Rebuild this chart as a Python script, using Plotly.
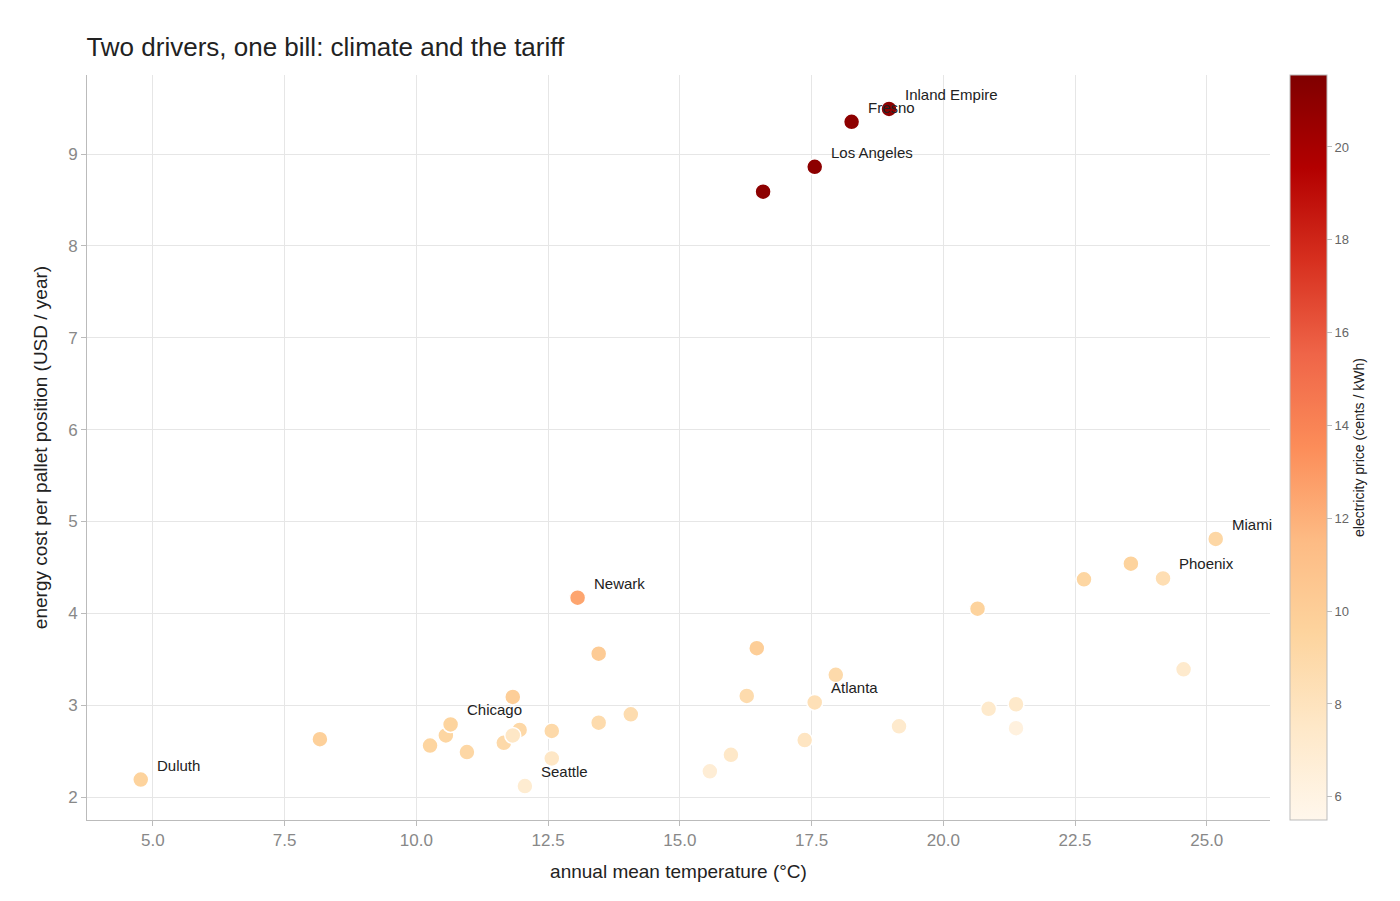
import plotly.graph_objects as go

temp = [4.77, 8.17, 10.26, 10.56, 10.65, 10.96, 11.66, 11.96, 11.83, 11.83, 12.06, 12.57, 12.57,
        13.06, 13.46, 13.46, 14.07, 15.57, 15.97, 16.27, 16.46, 16.58, 17.37, 17.56, 17.56, 17.96,
        18.26, 18.97, 19.16, 20.65, 20.86, 21.38, 21.38, 22.67, 23.56, 24.17, 24.56, 25.17]
cost = [2.19, 2.63, 2.56, 2.67, 2.79, 2.49, 2.59, 2.73, 3.09, 2.67, 2.12, 2.72, 2.42,
        4.17, 3.56, 2.81, 2.90, 2.28, 2.46, 3.10, 3.62, 8.59, 2.62, 8.86, 3.03, 3.33,
        9.35, 9.49, 2.77, 4.05, 2.96, 3.01, 2.75, 4.37, 4.54, 4.38, 3.39, 4.81]
price = [9.6, 9.8, 9.4, 9.3, 9.5, 9.2, 9.0, 9.1, 10.0, 7.6, 7.0, 9.0, 7.6,
         12.5, 10.2, 8.8, 8.7, 6.8, 7.5, 8.8, 10.0, 21.0, 7.8, 21.0, 8.3, 8.9,
         21.0, 21.0, 7.2, 9.6, 7.3, 7.4, 6.3, 9.3, 9.6, 8.5, 7.2, 9.2]
names = ["Duluth", "", "", "", "Chicago", "", "", "", "", "", "Seattle", "", "",
         "Newark", "", "", "", "", "", "", "", "", "", "Los Angeles", "Atlanta", "",
         "Fresno", "Inland Empire", "", "", "", "", "", "", "", "Phoenix", "", "Miami"]

fig = go.Figure(go.Scatter(
    x=temp, y=cost, mode="markers",
    marker=dict(size=16, color=price, colorscale="OrRd", cmin=5.5, cmax=21.55,
                line=dict(color="white", width=1.5),
                colorbar=dict(thickness=37, len=1, lenmode="fraction", y=0.5, yanchor="middle",
                              x=1.0, xanchor="left", xpad=20, ypad=0,
                              outlinecolor="#bbb", outlinewidth=1, ticks="outside", ticklen=5,
                              tickcolor="#bbb", tickvals=[6, 8, 10, 12, 14, 16, 18, 20],
                              tickfont=dict(size=13, color="#666"),
                              title=dict(text="electricity price (cents / kWh)", side="right",
                                         font=dict(size=14, color="#222")))),
    showlegend=False, hoverinfo="skip"))

for x, y, n in zip(temp, cost, names):
    if n:
        fig.add_annotation(x=x, y=y, text=n, showarrow=False, xanchor="left", yanchor="bottom",
                           xshift=14, yshift=4, font=dict(size=15, color="#222"))

ax = dict(showgrid=True, gridcolor="#e6e6e6", showline=True, linecolor="#bbb", zeroline=False,
          ticks="outside", tickcolor="#bbb", tickfont=dict(size=17, color="#888"), automargin=False)
fig.update_layout(
    width=1400, height=901, plot_bgcolor="white", paper_bgcolor="white",
    font=dict(family="Liberation Sans, Arial, sans-serif"),
    margin=dict(l=79, r=138, t=67, b=89, autoexpand=False),
    title=dict(text="Two drivers, one bill: climate and the tariff", x=0.056, xanchor="left",
               y=0.967, font=dict(size=26, color="#222"), automargin=False),
    xaxis=dict(ax, range=[3.75, 26.2], dtick=2.5, tickformat=".1f",
               title=dict(text="annual mean temperature (°C)", font=dict(size=19, color="#222"))),
    yaxis=dict(ax, range=[1.75, 9.86], dtick=1,
               title=dict(text="energy cost per pallet position (USD / year)", font=dict(size=19, color="#222"))),
)
fig.write_html("out.html")
